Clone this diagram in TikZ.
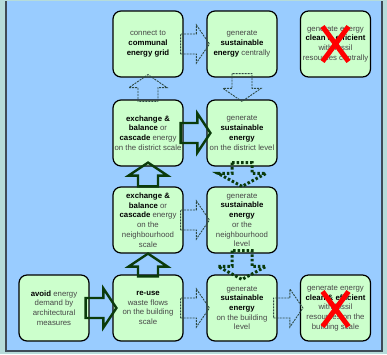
\documentclass[tikz,border=0pt]{standalone}
\usepackage{fontspec}
\setmainfont{Liberation Sans}
\usepackage{xcolor}
\usetikzlibrary{calc}
\usetikzlibrary{shapes.misc}
\definecolor{panelblue}{HTML}{99CCFF}
\definecolor{framegrey}{HTML}{B6DCDA}
\definecolor{frameline}{HTML}{3E4A56}
\definecolor{boxgreen}{HTML}{CCFFCC}
\definecolor{darkgreen}{HTML}{0B3B0B}
\definecolor{dashteal}{HTML}{2E4A44}
\tikzset
  {stepbox/.style={rectangle, rounded corners=8pt, draw=black, line width=1.2pt, fill=boxgreen,
                   minimum width=70pt, minimum height=66pt, inner sep=1pt, align=center,
                   text=black!72, font=\fontsize{7.8}{9.7}\selectfont}}
\tikzset
  {cross/.style={cross out, draw=red, line width=5pt, minimum width=26pt, minimum height=35pt,
                 inner sep=0pt, outer sep=0pt}}
\tikzset{thinarr/.style={draw=dashteal, line width=0.9pt, dash pattern=on 2pt off 1pt}}
\tikzset{thickarr/.style={draw=darkgreen, line width=2.4pt}}
\tikzset{dotarr/.style={draw=darkgreen, line width=3pt, dash pattern=on 2.5pt off 2pt}}
\newcommand{\keyw}[1]{\textbf{\color{black}#1}}
% hollow block arrow: [head half width]{style}{from}{to}
\newcommand{\blockarr}[4][19]{
  \draw[#2] let \p1=#3, \p2=#4,
                \n1={veclen(\x2-\x1,\y2-\y1)}, \n2={atan2(\y2-\y1,\x2-\x1)} in
    [shift={(\p1)},rotate=\n2]
    (0,-10) -- ({\n1-13},-10) -- ({\n1-13},-#1) -- (\n1,0)
    -- ({\n1-13},#1) -- ({\n1-13},10) -- (0,10) -- cycle;
}

\begin{document}
\begin{tikzpicture}[x=1pt,y=1pt]
 \useasboundingbox (0,0) rectangle (387,-354);
 \fill[framegrey] (0,0) rectangle (387,-354);
 \fill[panelblue] (6,-1) rectangle (382,-351);
 \draw[frameline,line width=2pt] (6,-1) -- (6,-351) -- (382,-351) -- (382,-1);

 % top row
 \draw (148,-44) node[stepbox] (A2)
              {connect to\\ \keyw{communal}\\ \keyw{energy grid}};
 \draw (242,-44) node[stepbox] (A3)
              {generate\\ \keyw{sustainable}\\ \keyw{energy} centrally};
 \draw (335.5,-44) node[stepbox] (A4)
              {generate energy\\ \keyw{clean \& efficient}\\ with fossil\\ resources centrally};

 % district
 \draw (148,-133) node[stepbox] (B2)
              {\keyw{exchange \&}\\ \keyw{balance} or\\ \keyw{cascade} energy\\ on the district scale};
 \draw (242,-133) node[stepbox] (B3)
              {generate\\ \keyw{sustainable}\\ \keyw{energy}\\ on the district level};

 % neighbourhood
 \draw (148,-220) node[stepbox] (C2)
              {\keyw{exchange \&}\\ \keyw{balance} or\\ \keyw{cascade} energy\\ on the\\ neighbourhood\\ scale};
 \draw (242,-220) node[stepbox] (C3)
              {generate\\ \keyw{sustainable}\\ \keyw{energy}\\ or the\\ neighbourhood\\ level};

 % building
 \draw (54,-308) node[stepbox] (D1)
              {\keyw{avoid} energy\\ demand by\\ architectural\\ measures};
 \draw (148,-308) node[stepbox] (D2)
              {\keyw{re-use}\\ waste flows\\ on the building\\ scale};
 \draw (242,-308) node[stepbox] (D3)
              {generate\\ \keyw{sustainable}\\ \keyw{energy}\\ on the building\\ level};
 \draw (335.5,-308) node[stepbox] (D4)
              {generate energy\\ \keyw{clean \& efficient}\\ with fossil\\ resources on the\\ building scale};

 % arrows
 \blockarr{thinarr}{([xshift=-3]A2.east)}{([xshift=3]A3.west)}
 \blockarr{thinarr}{([yshift=-2]B2.north)}{([yshift=3]A2.south)}
 \blockarr{thinarr}{([yshift=4]A3.south)}{([yshift=-2]B3.north)}
 \blockarr[19.5]{thickarr}{([xshift=-3]B2.east)}{([xshift=4]B3.west)}
 \blockarr[19.5]{thickarr}{(C2.north)}{([yshift=4]B2.south)}
 \blockarr[24]{dotarr}{([yshift=4]B3.south)}{(C3.north)}
 \blockarr{thinarr}{([xshift=-3]C2.east)}{([xshift=3]C3.west)}
 \blockarr[24]{dotarr}{([yshift=3]C3.south)}{([yshift=-5]D3.north)}
 \blockarr[19.5]{thickarr}{([xshift=-4]D1.east)}{([xshift=4]D2.west)}
 \blockarr[19.5]{thickarr}{([yshift=-2]D2.north)}{(C2.south)}
 \blockarr{thinarr}{([xshift=-3]D2.east)}{([xshift=3]D3.west)}
 \blockarr{thinarr}{([xshift=-4]D3.east)}{([xshift=3]D4.west)}

 % crossed out
 \draw (A4.center) node[cross] (XA) {};
 \draw ([yshift=-1]D4.center) node[cross] (XD) {};
\end{tikzpicture}
\end{document}
